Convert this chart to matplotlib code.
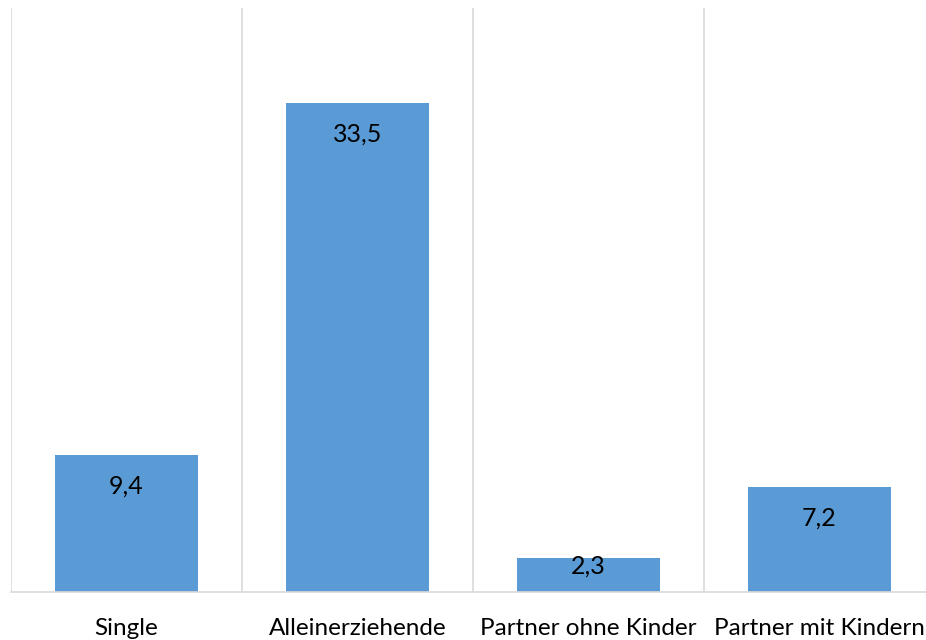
import matplotlib.pyplot as plt

# Values per household type
categories = ["Single", "Alleinerziehende", "Partner ohne Kinder", "Partner mit Kindern"]
values = [9.4, 33.5, 2.3, 7.2]
value_labels = ["9,4", "33,5", "2,3", "7,2"]

plt.rcParams['font.family'] = ['Lato', 'DejaVu Sans']

fig = plt.figure(figsize=(9.26, 6.4), dpi=100)
# axes run slightly past the right edge so the last category is cut like the original
ax = fig.add_axes([11 / 926, 48 / 640, 924 / 926, 584 / 640])

x = range(len(categories))
ax.bar(x, values, width=0.62, color="#5b9bd5", zorder=2)

ax.set_xlim(-0.5, len(categories) - 0.5)
ax.set_ylim(0, 40)

# separators between categories
for b in [i - 0.5 for i in range(len(categories) + 1)]:
    ax.axvline(b, color="#d9d9d9", linewidth=1.2, zorder=1)

for i, (v, lab) in enumerate(zip(values, value_labels)):
    ax.text(i, max(v - 2.15, 1.78), lab, ha="center", va="center",
            fontsize=18, color="black", zorder=3)

for s in ["top", "right", "left"]:
    ax.spines[s].set_visible(False)
ax.spines["bottom"].set_color("#d9d9d9")
ax.spines["bottom"].set_linewidth(1.2)

ax.set_yticks([])
ax.set_xticks(list(x))
ax.set_xticklabels(categories, fontsize=17.5)
ax.tick_params(axis="x", length=0, pad=19)

fig.savefig("out.png", dpi=100)
